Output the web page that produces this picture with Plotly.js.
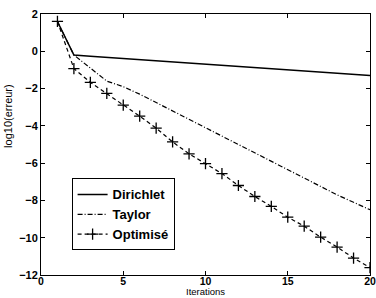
<!DOCTYPE html>
<html><head><meta charset="utf-8">
<script src="https://cdn.plot.ly/plotly-3.0.1.min.js"></script>
<style>html,body{margin:0;padding:0;background:#fff}#chart{width:376px;height:298px}</style>
</head><body><div id="chart"></div>
<script>
var iterations = [1,2,3,4,5,6,7,8,9,10,11,12,13,14,15,16,17,18,19,20];
var dirichlet = [1.6,-0.2,-0.27,-0.33,-0.39,-0.45,-0.51,-0.57,-0.63,-0.69,-0.75,-0.81,-0.87,-0.93,-0.99,-1.05,-1.11,-1.17,-1.23,-1.3];
var taylor = [1.6,-0.2,-0.9,-1.6,-1.9,-2.3,-2.75,-3.2,-3.65,-4.1,-4.55,-5.0,-5.45,-5.9,-6.35,-6.8,-7.25,-7.7,-8.1,-8.5];
var optimise = [1.6,-0.93,-1.67,-2.26,-2.89,-3.48,-4.12,-4.86,-5.5,-6.03,-6.56,-7.2,-7.79,-8.32,-8.9,-9.38,-9.97,-10.5,-11.09,-11.6];
var names = ['Dirichlet','Taylor','Optimisé'];
var xTicks = [0,5,10,15,20];
var yTicks = [-12,-10,-8,-6,-4,-2,0,2];
var xTitle = 'Iterations';
var yTitle = 'log10(erreur)';

var fam = 'Liberation Sans, Arial, sans-serif';
var traces = [
  {x:iterations, y:dirichlet, name:names[0], mode:'lines', line:{color:'#000', width:1.5}},
  {x:iterations, y:taylor, name:names[1], mode:'lines', line:{color:'#000', width:1.2, dash:'5px,2px,1px,2px'}},
  {x:iterations, y:optimise, name:names[2], mode:'lines+markers', line:{color:'#000', width:1.2, dash:'4px,3px'},
   marker:{symbol:'cross-thin-open', size:8, line:{color:'#000', width:1.3}}}
];
var axisCommon = {showline:true, linecolor:'#000', linewidth:1, mirror:'ticks', ticks:'inside', ticklen:4,
  tickcolor:'#000', showgrid:false, zeroline:false, ticklabeloverflow:'allow',
  tickfont:{family:fam, size:11, color:'#000', weight:'bold'}};
var layout = {
  width:376, height:298, margin:{l:41, r:6, t:14, b:23},
  paper_bgcolor:'#fff', plot_bgcolor:'#fff', font:{family:fam, size:11, color:'#000'}, showlegend:true,
  xaxis: Object.assign({}, axisCommon, {range:[0,20.0001], tickvals:xTicks, ticktext:xTicks.map(String), ticklabelstandoff:-4,
    tickfont:{family:fam, size:10.5, color:'#000', weight:'bold'}}),
  yaxis: Object.assign({}, axisCommon, {range:[-12,2], tickvals:yTicks}),
  annotations:[
    {text:xTitle, xref:'paper', yref:'paper', x:0.5, y:-0.0875, xanchor:'center', yanchor:'bottom', showarrow:false,
     borderpad:0, font:{family:fam, size:9.5, color:'#000'}},
    {text:yTitle, xref:'paper', yref:'paper', x:-0.1, y:0.61, xanchor:'center', yanchor:'middle', showarrow:false,
     textangle:-90, font:{family:fam, size:11, color:'#000'}}
  ],
  legend:{x:0.093, y:0.37, xanchor:'left', yanchor:'top', bordercolor:'#000', borderwidth:1, bgcolor:'#fff',
    font:{family:fam, size:13, color:'#000', weight:'bold'}, tracegroupgap:0, itemwidth:30}
};
Plotly.newPlot('chart', traces, layout, {displayModeBar:false, staticPlot:true});
</script></body></html>
